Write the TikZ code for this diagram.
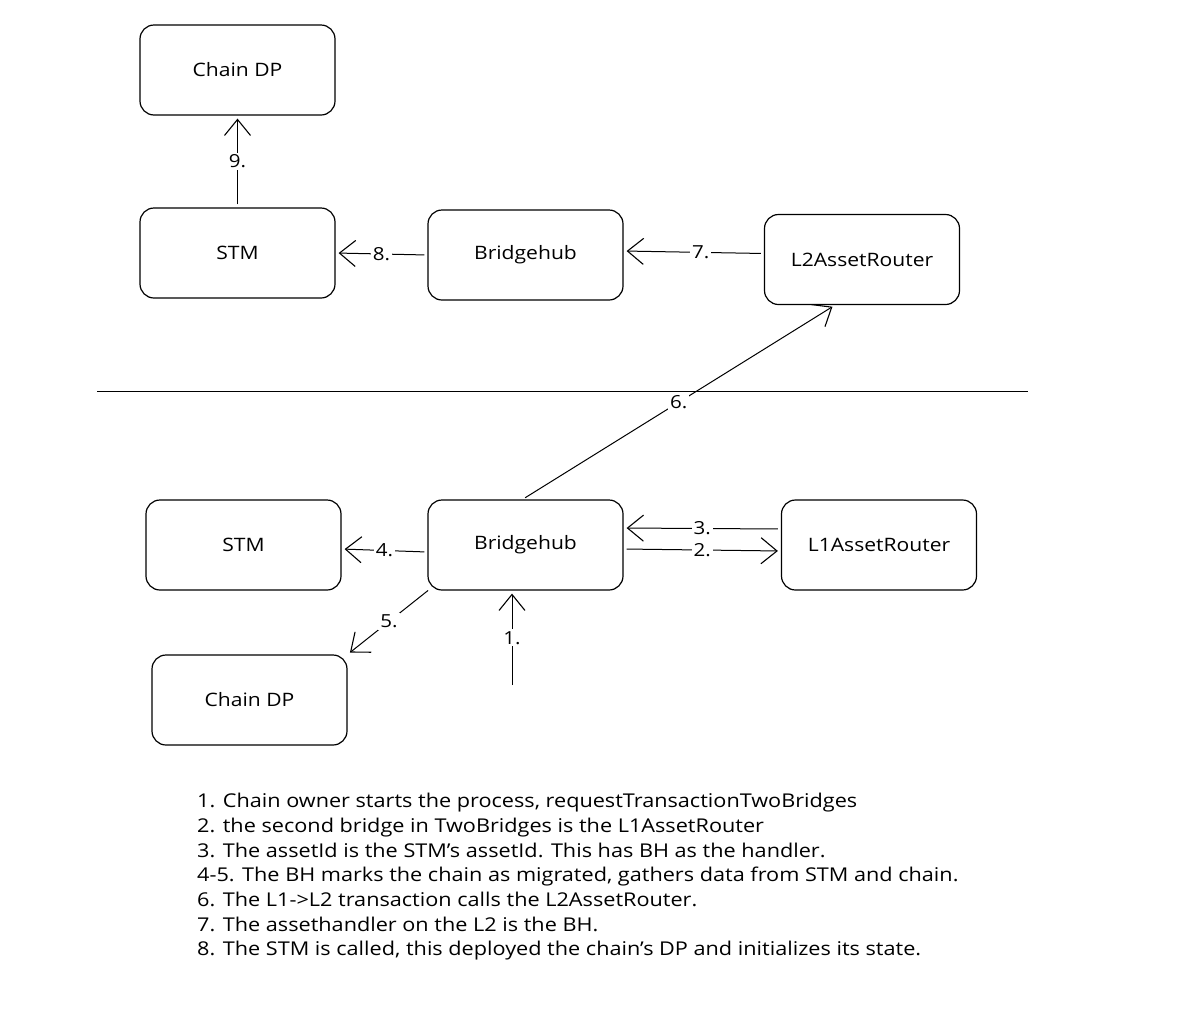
\documentclass[tikz,border=0pt]{standalone}
\usepackage{fontspec}
\setmainfont{Open Sans}[FakeStretch=1.14]
\usetikzlibrary{arrows.meta}
\begin{document}
\begin{tikzpicture}[x=1pt,y=-1pt,
  box/.style={draw, rounded corners=14pt, line width=1.2pt, minimum width=195pt, minimum height=90pt, font=\fontsize{18.5}{20}\selectfont},
  conn/.style={line width=1pt, shorten >=3pt, shorten <=3pt, -{Straight Barb[length=16pt,width=26pt,line width=1.1pt]}},
  lbl/.style={fill=white, inner sep=2pt, font=\fontsize{18}{20}\selectfont},
  notes/.style={align=left, anchor=north west, inner sep=0pt, font=\fontsize{19}{24.7}\selectfont}]
\useasboundingbox (0,0) rectangle (1194,1018);
\fill[white] (0,0) rectangle (1194,1018);
% top (L2)
\node[box] (cdpT) at (237.5,70) {Chain DP};
\node[box] (stmT) at (237.5,253) {STM};
\node[box] (bhT) at (525.5,255) {Bridgehub};
\node[box] (l2) at (862,259.5) {L2AssetRouter};
% separator
\coordinate (sepL) at (97,391);
\coordinate (sepR) at (1028,391);
\draw[line width=1pt] (sepL) -- (sepR);
% bottom (L1)
\node[box] (stmB) at (243.5,545) {STM};
\node[box] (bhB) at (525.5,545) {Bridgehub};
\node[box] (l1) at (879,545) {L1AssetRouter};
\node[box] (cdpB) at (249.5,700) {Chain DP};
\coordinate (start) at (512,685);
% connectors
\draw[conn] (stmT.north) -- (cdpT.south) node[lbl, midway] {9.};
\draw[conn] (bhT.west) -- (stmT.east) node[lbl, midway] {8.};
\draw[conn] ([yshift=6pt]l2.west) -- ([yshift=4pt]bhT.east) node[lbl, pos=0.45] {7.};
\draw[conn] ([xshift=-3pt]bhB.north) -- ([xshift=-27pt]l2.south) node[lbl, midway] {6.};
\draw[conn] ([yshift=16pt]l1.west) -- ([yshift=17pt]bhB.east) node[lbl, midway] {3.};
\draw[conn] ([yshift=-4pt]bhB.east) -- ([yshift=-6pt]l1.west) node[lbl, midway] {2.};
\draw[conn] ([yshift=-7pt]bhB.west) -- ([yshift=-4pt]stmB.east) node[lbl, midway] {4.};
\draw[conn] ([xshift=3pt,yshift=2pt]bhB.south west) -- (cdpB.north east) node[lbl, midway] {5.};
\draw[conn, shorten <=0pt] (start) -- (bhB.south -| start) node[lbl, midway] {1.};
% notes
\node[notes] (txt) at (197,793) {1. Chain owner starts the process, requestTransactionTwoBridges\\
2. the second bridge in TwoBridges is the L1AssetRouter\\
3. The assetId is the STM's assetId. This has BH as the handler.\\
4-5. The BH marks the chain as migrated, gathers data from STM and chain.\\
6. The L1->L2 transaction calls the L2AssetRouter.\\
7. The assethandler on the L2 is the BH.\\
8. The STM is called, this deployed the chain's DP and initializes its state.};
\end{tikzpicture}
\end{document}
